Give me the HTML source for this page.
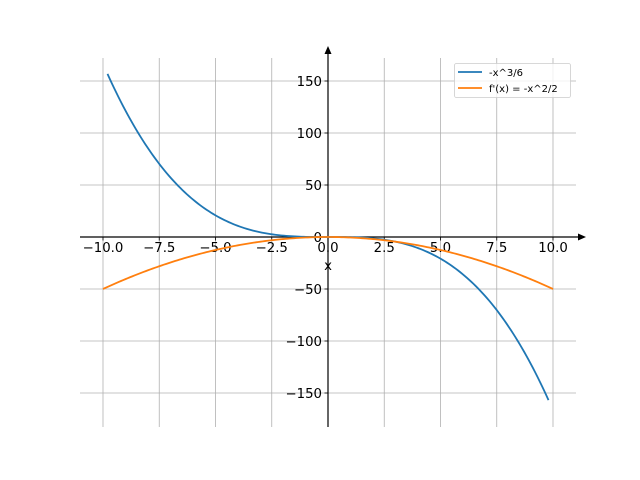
<!DOCTYPE html>
<html><head><meta charset="utf-8"><style>body{margin:0;background:#fff}svg{display:block}text{font-family:"DejaVu Sans","Liberation Sans",sans-serif}</style></head>
<body>
<svg id="s" width="640" height="480" viewBox="0 0 640 480" xmlns="http://www.w3.org/2000/svg">
<g id="grid" stroke="#b0b0b0" stroke-width="0.8"></g>
<g id="lab" font-size="13.3" fill="#000"></g>
<line x1="80" y1="237" x2="580" y2="237" stroke="#000" stroke-width="1.2"/>
<polygon points="586,237 578,233.5 578,240.5" fill="#000"/>
<line x1="328" y1="427" x2="328" y2="52" stroke="#000" stroke-width="1.2"/>
<polygon points="328,46 324.5,54 331.5,54" fill="#000"/>
<path id="b" fill="none" stroke="#1f77b4" stroke-width="1.8"/>
<path id="o" fill="none" stroke="#ff7f0e" stroke-width="1.8"/>
<text x="328" y="270" font-size="13.3" text-anchor="middle">x</text>
<rect x="454.5" y="63.5" width="116" height="34" fill="#fff" fill-opacity="0.8" stroke="#ccc" stroke-width="0.8" rx="2"/>
<line x1="458" y1="72" x2="482" y2="72" stroke="#1f77b4" stroke-width="1.8"/>
<line x1="458" y1="88" x2="482" y2="88" stroke="#ff7f0e" stroke-width="1.8"/>
<text x="489" y="76" font-size="10">-x^3/6</text>
<text x="489" y="92" font-size="10">f'(x) = -x^2/2</text>
</svg>
<script>
var X=function(v){return 328+v*22.5},Y=function(v){return 237-v*1.04};
var g=document.getElementById('grid'),l=document.getElementById('lab'),ns='http://www.w3.org/2000/svg';
function el(p,t,a,txt){var e=document.createElementNS(ns,t);for(var k in a)e.setAttribute(k,a[k]);if(txt)e.textContent=txt;p.appendChild(e);}
for(var v=-10;v<=10;v+=2.5){var x=X(v);el(g,'line',{x1:x,y1:58,x2:x,y2:427});el(l,'line',{x1:x,y1:237,x2:x,y2:240.5,stroke:'#000','stroke-width':0.8});el(l,'text',{x:x,y:252,'text-anchor':'middle'},(v<0?'\u2212':'')+Math.abs(v).toFixed(1));}
for(var v=-150;v<=150;v+=50){var y=Y(v);el(g,'line',{x1:80,y1:y,x2:576,y2:y});el(l,'line',{x1:324.5,y1:y,x2:328,y2:y,stroke:'#000','stroke-width':0.8});el(l,'text',{x:322,y:y+5,'text-anchor':'end'},(v<0?'\u2212':'')+Math.abs(v));}
var b='',o='';for(var i=0;i<=200;i++){var x=-9.8+19.6*i/200;b+=(i?'L':'M')+X(x).toFixed(2)+' '+Y(-x*x*x/6).toFixed(2);var x2=-10+20*i/200;o+=(i?'L':'M')+X(x2).toFixed(2)+' '+Y(-x2*x2/2).toFixed(2);}
document.getElementById('b').setAttribute('d',b);document.getElementById('o').setAttribute('d',o);
</script>
</body></html>
